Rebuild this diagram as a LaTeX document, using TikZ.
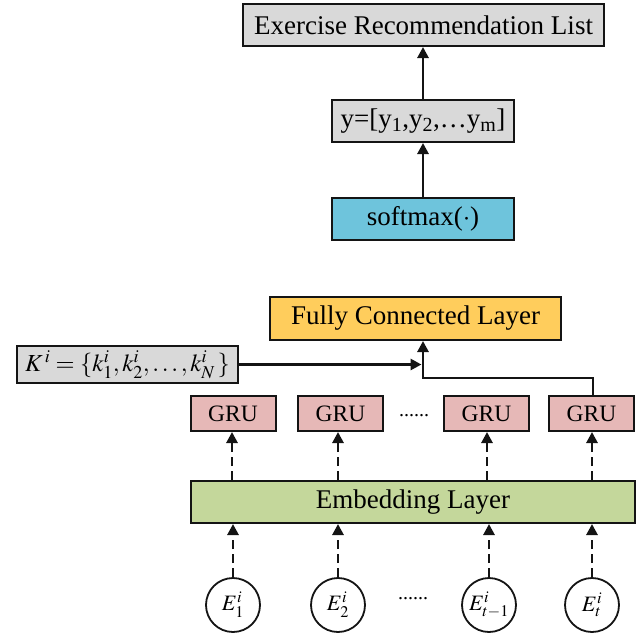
\documentclass[tikz,border=0pt]{standalone}
\usepackage{mathptmx}
\usepackage{fontspec}
\setmainfont{Liberation Serif}
\usetikzlibrary{arrows.meta}

\definecolor{boxgray}{RGB}{217,217,217}
\definecolor{smblue}{RGB}{110,196,220}
\definecolor{fcyellow}{RGB}{255,205,92}
\definecolor{grupink}{RGB}{230,184,183}
\definecolor{embgreen}{RGB}{196,215,155}
\definecolor{edge}{RGB}{20,20,20}

\begin{document}
\begin{tikzpicture}[x=1pt,y=-1pt,
  blk/.style={draw=edge, line width=2pt, inner sep=0pt, align=center,
              font=\fontsize{27}{29}\selectfont},
  grubox/.style={blk, fill=grupink, minimum width=85pt, minimum height=35pt,
                 font=\fontsize{23.5}{25}\selectfont},
  embnode/.style={draw=edge, line width=1.8pt, circle, fill=white,
                  minimum size=54pt, inner sep=0pt,
                  font=\fontsize{22}{24}\selectfont},
  arr/.style={line width=2.8pt, draw=edge, -{Triangle[length=11pt,width=11pt]}},
  darr/.style={arr, dash pattern=on 9pt off 5pt},
  dotsnode/.style={inner sep=0pt, anchor=base, font=\fontsize{20}{22}\selectfont}
]
\useasboundingbox (0,0) rectangle (643,633);

% output stack
\node[blk, fill=boxgray, minimum width=361pt, minimum height=42pt] (erl) at (423.5,25) {Exercise Recommendation List};
\node[blk, fill=boxgray, minimum width=182pt, minimum height=42pt] (yv) at (423,121)
  {y=[y\textsubscript{1},y\textsubscript{2},…y\textsubscript{m}]};
\node[blk, fill=smblue, minimum width=182pt, minimum height=42pt] (sm) at (423,219) {softmax($\cdot$)};
\node[blk, fill=fcyellow, minimum width=291pt, minimum height=43pt] (fc) at (415.5,318.5) {Fully Connected Layer};

% knowledge-point set
\node[blk, fill=boxgray, minimum width=221pt, minimum height=37pt, font=\fontsize{24.5}{26}\selectfont] (kset) at (127.5,364.5)
  {$K^{\,i}=\{k^{i}_{1},k^{i}_{2},\ldots,k^{i}_{N}\,\}$};

% recurrent units
\node[grubox] (g1) at (233,413.5) {GRU};
\node[grubox] (g2) at (340.5,413.5) {GRU};
\node[grubox] (g3) at (486.5,413.5) {GRU};
\node[grubox] (g4) at (591.5,413.5) {GRU};
\node[dotsnode] (gdots) at (414,416) {......};

% embedding layer
\node[blk, fill=embgreen, minimum width=444pt, minimum height=42pt] (emb) at (413,502) {Embedding Layer};

% inputs
\node[embnode] (e1) at (233,605) {$E^{i}_{1}$};
\node[embnode] (e2) at (338,605) {$E^{i}_{2}$};
\node[embnode] (e3) at (489,605) {$E^{i}_{t-1}$};
\node[embnode] (e4) at (592,605) {$E^{i}_{t}$};
\node[dotsnode] (edots) at (413,599) {......};

% upper connectors
\draw[arr] (sm.north) -- (yv.south);
\draw[arr] (yv.north) -- (yv.north |- erl.south);

\coordinate (jn) at (423,378);
\draw[arr] (g4.north -| 593,0) |- (jn) -- (jn |- fc.south);
\draw[arr, shorten >=1.5pt] (kset.east) -- (kset.east -| jn);

% GRU inputs from the embedding layer
\foreach \g/\x in {g1/232, g2/338, g3/487, g4/592}{
  \draw[darr] (\x,0 |- emb.north) -- (\x,0 |- \g.south);
}
% embedding inputs
\foreach \e in {e1,e2,e3,e4}{
  \draw[darr] (\e.north) -- (\e.north |- emb.south);
}
\end{tikzpicture}
\end{document}
